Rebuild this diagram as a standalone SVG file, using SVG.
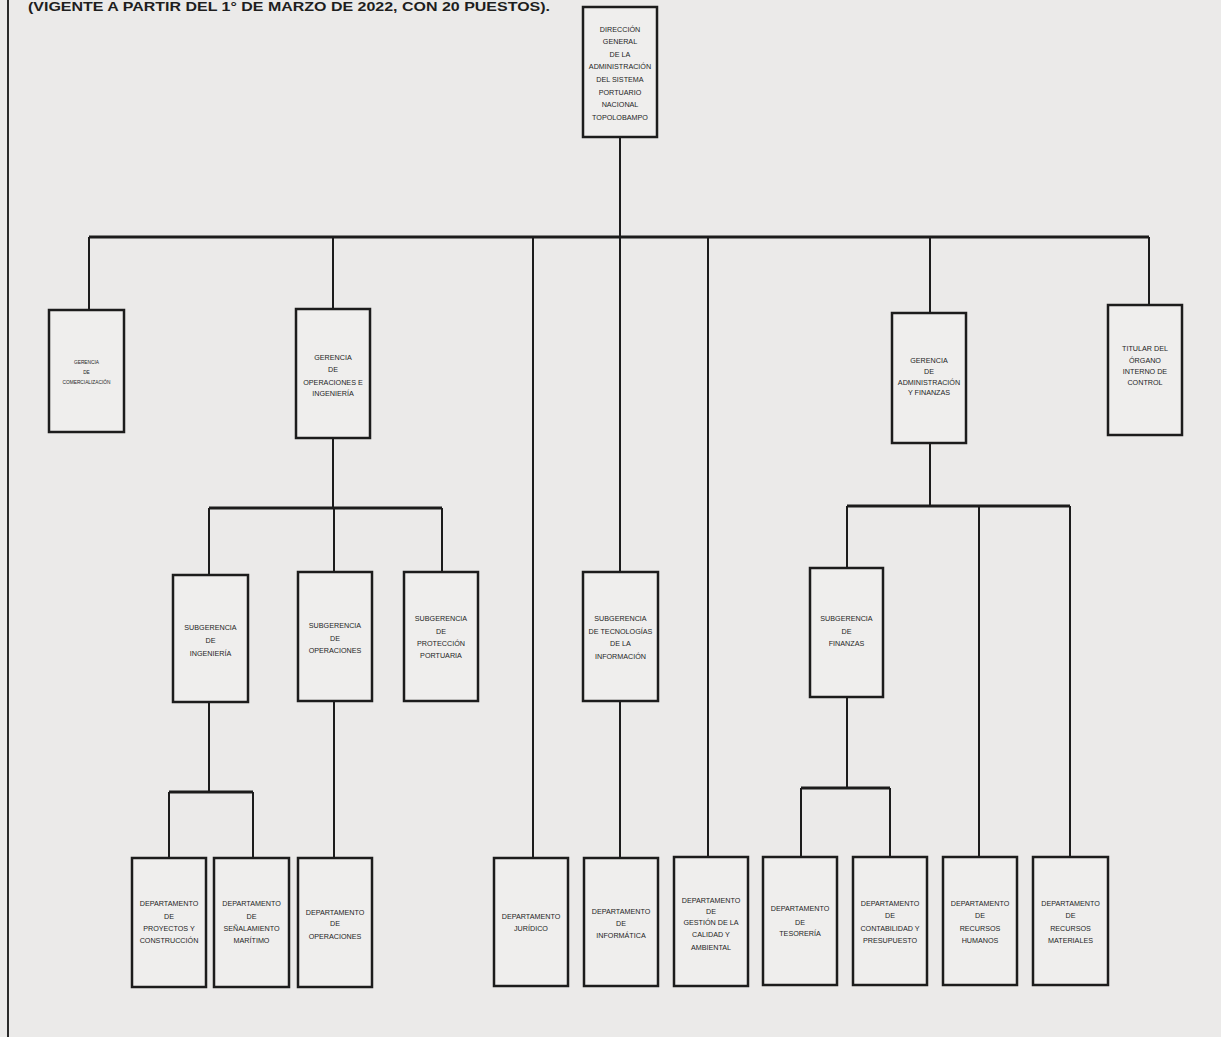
<svg xmlns="http://www.w3.org/2000/svg" width="1221" height="1037" viewBox="0 0 1221 1037">
<style>
.bg{fill:#ebeae9}
.box{fill:#efeeed;stroke:#1c1c1c;stroke-width:2.5}
.t{font-family:"Liberation Sans",Arial,sans-serif;font-size:7.2px;fill:#1e1e1e;text-anchor:middle}
.sm{font-size:4.8px}
.c{fill:none;stroke:#1c1c1c;stroke-width:2}
.cb{fill:none;stroke:#1c1c1c;stroke-width:3}
.title{font-family:"Liberation Sans",Arial,sans-serif;font-size:12px;font-weight:bold;fill:#1e1e1e}
</style>
<rect class="bg" x="0" y="0" width="1221" height="1037"/>
<line x1="8" y1="0" x2="8" y2="1037" stroke="#2a2a2a" stroke-width="2"/>
<text class="title" x="28" y="11" textLength="522" lengthAdjust="spacingAndGlyphs">(VIGENTE A PARTIR DEL 1° DE MARZO DE 2022, CON 20 PUESTOS).</text>

<g id="connectors">
<path class="c" d="M620 137V237"/>
<path class="cb" d="M89 237H1149"/>
<path class="c" d="M89 237V310M333 237V309M533 237V858M620 237V572M708 237V857M930 237V313M1149 237V305"/>
<path class="c" d="M333 438V508M209 508V575M334 508V572M442 508V572"/>
<path class="cb" d="M209 508H442"/>
<path class="c" d="M209 702V792M169 792V858M253 792V858"/>
<path class="cb" d="M169 792H253"/>
<path class="c" d="M334 701V858M620 701V858"/>
<path class="c" d="M930 443V506M847 506V568M979 506V857M1070 506V857"/>
<path class="cb" d="M847 506H1070"/>
<path class="c" d="M847 697V788M801 788V857M890 788V857"/>
<path class="cb" d="M801 788H890"/>
</g>

<g id="n-direccion">
<rect class="box" x="583" y="7" width="74" height="130"/>
<text class="t" x="620"><tspan x="620" y="31.5">DIRECCIÓN</tspan><tspan x="620" y="43.5">GENERAL</tspan><tspan x="620" y="56.5">DE LA</tspan><tspan x="620" y="68.5">ADMINISTRACIÓN</tspan><tspan x="620" y="81.5">DEL SISTEMA</tspan><tspan x="620" y="94.5">PORTUARIO</tspan><tspan x="620" y="106.5">NACIONAL</tspan><tspan x="620" y="119.5">TOPOLOBAMPO</tspan></text>
</g>
<g id="n-comercializacion">
<rect class="box" x="49" y="310" width="75" height="122"/>
<text class="t sm"><tspan x="86.5" y="364">GERENCIA</tspan><tspan x="86.5" y="373.5">DE</tspan><tspan x="86.5" y="384">COMERCIALIZACIÓN</tspan></text>
</g>
<g id="n-operaciones-ingenieria">
<rect class="box" x="296" y="309" width="74" height="129"/>
<text class="t"><tspan x="333" y="359.5">GERENCIA</tspan><tspan x="333" y="371.5">DE</tspan><tspan x="333" y="384.5">OPERACIONES E</tspan><tspan x="333" y="395.5">INGENIERÍA</tspan></text>
</g>
<g id="n-administracion">
<rect class="box" x="892" y="313" width="74" height="130"/>
<text class="t"><tspan x="929" y="362.5">GERENCIA</tspan><tspan x="929" y="373.5">DE</tspan><tspan x="929" y="384.5">ADMINISTRACIÓN</tspan><tspan x="929" y="394.5">Y FINANZAS</tspan></text>
</g>
<g id="n-oic">
<rect class="box" x="1108" y="305" width="74" height="130"/>
<text class="t"><tspan x="1145" y="350.5">TITULAR DEL</tspan><tspan x="1145" y="362.5">ÓRGANO</tspan><tspan x="1145" y="373.5">INTERNO DE</tspan><tspan x="1145" y="384.5">CONTROL</tspan></text>
</g>
<g id="n-sub-ingenieria">
<rect class="box" x="173" y="575" width="75" height="127"/>
<text class="t"><tspan x="210.5" y="629.5">SUBGERENCIA</tspan><tspan x="210.5" y="642.5">DE</tspan><tspan x="210.5" y="655.5">INGENIERÍA</tspan></text>
</g>
<g id="n-sub-operaciones">
<rect class="box" x="298" y="572" width="74" height="129"/>
<text class="t"><tspan x="335" y="627.5">SUBGERENCIA</tspan><tspan x="335" y="640.5">DE</tspan><tspan x="335" y="652.5">OPERACIONES</tspan></text>
</g>
<g id="n-sub-proteccion">
<rect class="box" x="404" y="572" width="74" height="129"/>
<text class="t"><tspan x="441" y="620.5">SUBGERENCIA</tspan><tspan x="441" y="633.5">DE</tspan><tspan x="441" y="645.5">PROTECCIÓN</tspan><tspan x="441" y="657.5">PORTUARIA</tspan></text>
</g>
<g id="n-sub-ti">
<rect class="box" x="583" y="572" width="75" height="129"/>
<text class="t"><tspan x="620.5" y="620.5">SUBGERENCIA</tspan><tspan x="620.5" y="633.5">DE TECNOLOGÍAS</tspan><tspan x="620.5" y="645.5">DE LA</tspan><tspan x="620.5" y="658.5">INFORMACIÓN</tspan></text>
</g>
<g id="n-sub-finanzas">
<rect class="box" x="810" y="568" width="73" height="129"/>
<text class="t"><tspan x="846.5" y="620.5">SUBGERENCIA</tspan><tspan x="846.5" y="633.5">DE</tspan><tspan x="846.5" y="645.5">FINANZAS</tspan></text>
</g>
<g id="n-proyectos">
<rect class="box" x="132" y="858" width="74" height="129"/>
<text class="t"><tspan x="169" y="905.5">DEPARTAMENTO</tspan><tspan x="169" y="918.5">DE</tspan><tspan x="169" y="930.5">PROYECTOS Y</tspan><tspan x="169" y="942.5">CONSTRUCCIÓN</tspan></text>
</g>
<g id="n-senalamiento">
<rect class="box" x="214" y="858" width="75" height="129"/>
<text class="t"><tspan x="251.5" y="905.5">DEPARTAMENTO</tspan><tspan x="251.5" y="918.5">DE</tspan><tspan x="251.5" y="930.5">SEÑALAMIENTO</tspan><tspan x="251.5" y="942.5">MARÍTIMO</tspan></text>
</g>
<g id="n-dep-operaciones">
<rect class="box" x="298" y="858" width="74" height="129"/>
<text class="t"><tspan x="335" y="914.5">DEPARTAMENTO</tspan><tspan x="335" y="925.5">DE</tspan><tspan x="335" y="938.5">OPERACIONES</tspan></text>
</g>
<g id="n-juridico">
<rect class="box" x="494" y="858" width="74" height="128"/>
<text class="t"><tspan x="531" y="918.5">DEPARTAMENTO</tspan><tspan x="531" y="930.5">JURÍDICO</tspan></text>
</g>
<g id="n-informatica">
<rect class="box" x="584" y="858" width="74" height="128"/>
<text class="t"><tspan x="621" y="913.5">DEPARTAMENTO</tspan><tspan x="621" y="925.5">DE</tspan><tspan x="621" y="937.5">INFORMÁTICA</tspan></text>
</g>
<g id="n-gestion-calidad">
<rect class="box" x="674" y="857" width="74" height="129"/>
<text class="t"><tspan x="711" y="902.5">DEPARTAMENTO</tspan><tspan x="711" y="913.5">DE</tspan><tspan x="711" y="924.5">GESTIÓN DE LA</tspan><tspan x="711" y="936.5">CALIDAD Y</tspan><tspan x="711" y="949.5">AMBIENTAL</tspan></text>
</g>
<g id="n-tesoreria">
<rect class="box" x="763" y="857" width="74" height="128"/>
<text class="t"><tspan x="800" y="910.5">DEPARTAMENTO</tspan><tspan x="800" y="924.5">DE</tspan><tspan x="800" y="935.5">TESORERÍA</tspan></text>
</g>
<g id="n-contabilidad">
<rect class="box" x="853" y="857" width="74" height="128"/>
<text class="t"><tspan x="890" y="905.5">DEPARTAMENTO</tspan><tspan x="890" y="917.5">DE</tspan><tspan x="890" y="930.5">CONTABILIDAD Y</tspan><tspan x="890" y="942.5">PRESUPUESTO</tspan></text>
</g>
<g id="n-recursos-humanos">
<rect class="box" x="943" y="857" width="74" height="128"/>
<text class="t"><tspan x="980" y="905.5">DEPARTAMENTO</tspan><tspan x="980" y="917.5">DE</tspan><tspan x="980" y="930.5">RECURSOS</tspan><tspan x="980" y="942.5">HUMANOS</tspan></text>
</g>
<g id="n-recursos-materiales">
<rect class="box" x="1033" y="857" width="75" height="128"/>
<text class="t"><tspan x="1070.5" y="905.5">DEPARTAMENTO</tspan><tspan x="1070.5" y="917.5">DE</tspan><tspan x="1070.5" y="930.5">RECURSOS</tspan><tspan x="1070.5" y="942.5">MATERIALES</tspan></text>
</g>
</svg>
